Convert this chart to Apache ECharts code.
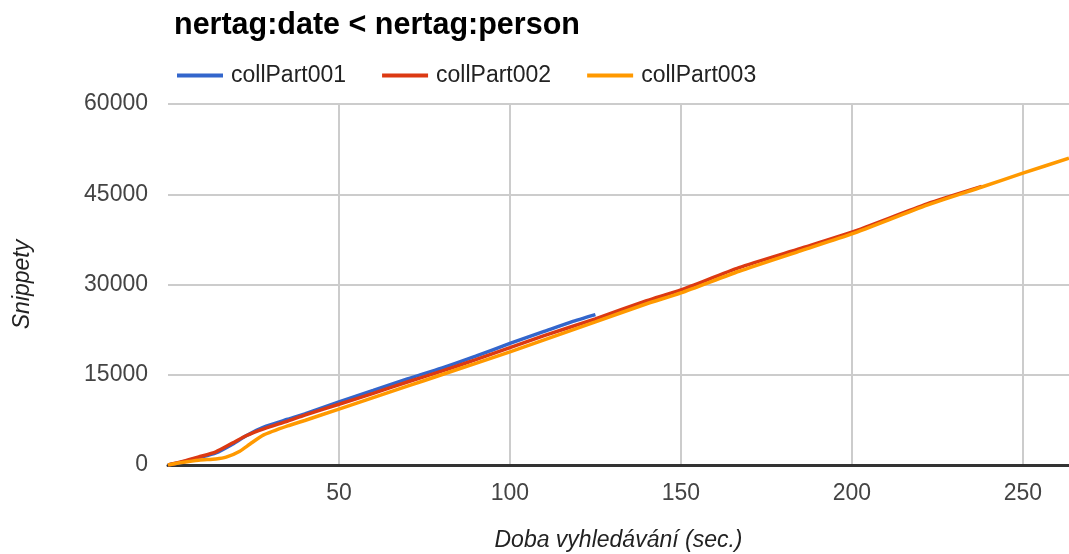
<!DOCTYPE html>
<html>
<head>
<meta charset="utf-8">
<script src="https://cdn.jsdelivr.net/npm/echarts@6/dist/echarts.min.js"></script>
<style>
  html, body { margin: 0; padding: 0; background: #fff; }
  #chart { width: 1069px; height: 554px; }
</style>
</head>
<body>
<div id="chart"></div>
<script>
// ============ data ============
const seriesNames = ['collPart001', 'collPart002', 'collPart003']
const seriesColors = ['#3366cc', '#dc3912', '#ff9900']

// [sec, snippets]
const collPart001 = [
  [0, 0], [4, 450], [9, 1200], [14, 2000], [19, 3500], [23, 4900], [28, 6300],
  [35, 7600], [40, 8500], [50, 10500], [60, 12400], [70, 14300], [80, 16100],
  [90, 18100], [100, 20200], [110, 22200], [118, 23800], [125, 25000]
]
const collPart002 = [
  [0, 0], [4, 550], [9, 1350], [14, 2200], [19, 3700], [23, 4900], [28, 6000],
  [35, 7300], [40, 8300], [50, 10100], [60, 11900], [70, 13800], [80, 15600],
  [90, 17500], [100, 19500], [110, 21500], [125, 24300], [140, 27300],
  [150, 29100], [167, 32800], [185, 36000], [200, 38700], [222, 43400], [238, 46300]
]
const collPart003 = [
  [0, 0], [4, 400], [9, 800], [14, 1000], [17, 1300], [21, 2300], [24, 3500],
  [28, 5000], [35, 6500], [40, 7400], [50, 9300], [60, 11200], [70, 13100],
  [80, 15000], [90, 16900], [100, 18800], [110, 20800], [125, 23800],
  [140, 26800], [150, 28600], [167, 32200], [185, 35600], [200, 38400],
  [222, 43200], [238, 46200], [250, 48500], [263.5, 51000]
]
const seriesData = [collPart001, collPart002, collPart003]

const xMin = 0, xMax = 263.5, xStep = 50
const yMin = 0, yMax = 60000, yStep = 15000

const font = '"Liberation Sans", Arial, sans-serif'

// ============ chart ============
const chart = echarts.init(document.getElementById('chart'), null, { renderer: 'canvas' })
chart.setOption({
  animation: false,
  backgroundColor: '#fff',
  textStyle: { fontFamily: font },
  title: {
    text: 'nertag:date < nertag:person',
    left: 169,
    top: 5,
    textStyle: { fontFamily: font, fontSize: 30.5, fontWeight: 'bold', color: '#000' }
  },
  legend: {
    left: 172,
    top: 59,
    icon: 'rect',
    itemWidth: 46,
    itemHeight: 4,
    itemGap: 36,
    textStyle: { fontFamily: font, fontSize: 23, color: '#222', padding: [0, 0, 0, 3] },
    data: seriesNames
  },
  grid: { left: 168, right: 0, top: 104, bottom: 89, containLabel: false, outerBoundsMode: 'none' },
  xAxis: {
    type: 'value',
    min: xMin,
    max: xMax,
    interval: xStep,
    name: 'Doba vyhledávání (sec.)',
    nameLocation: 'middle',
    nameGap: 64,
    nameTextStyle: { fontFamily: font, fontSize: 23, fontStyle: 'italic', color: '#222' },
    axisLine: { show: true, lineStyle: { color: '#333', width: 3 } },
    axisTick: { show: false },
    axisLabel: {
      fontFamily: font, fontSize: 23, color: '#444', margin: 17,
      showMaxLabel: false,
      formatter: (v) => (v === 0 ? '' : String(v))
    },
    splitLine: { show: true, showMinLine: false, showMaxLine: false, lineStyle: { color: '#ccc', width: 2 } }
  },
  yAxis: {
    type: 'value',
    min: yMin,
    max: yMax,
    interval: yStep,
    name: 'Snippety',
    nameLocation: 'middle',
    nameGap: 134,
    nameTextStyle: { fontFamily: font, fontSize: 23, fontStyle: 'italic', color: '#222' },
    axisLine: { show: false },
    axisTick: { show: false },
    axisLabel: { fontFamily: font, fontSize: 23, color: '#444', margin: 20, formatter: (v) => String(v) },
    splitLine: { show: true, lineStyle: { color: '#ccc', width: 2 } }
  },
  series: seriesNames.map((name, i) => ({
    name,
    type: 'line',
    data: seriesData[i],
    smooth: 0.2,
    showSymbol: false,
    symbol: 'none',
    lineStyle: { color: seriesColors[i], width: 3.5 },
    itemStyle: { color: seriesColors[i] }
  }))
})
</script>
</body>
</html>
